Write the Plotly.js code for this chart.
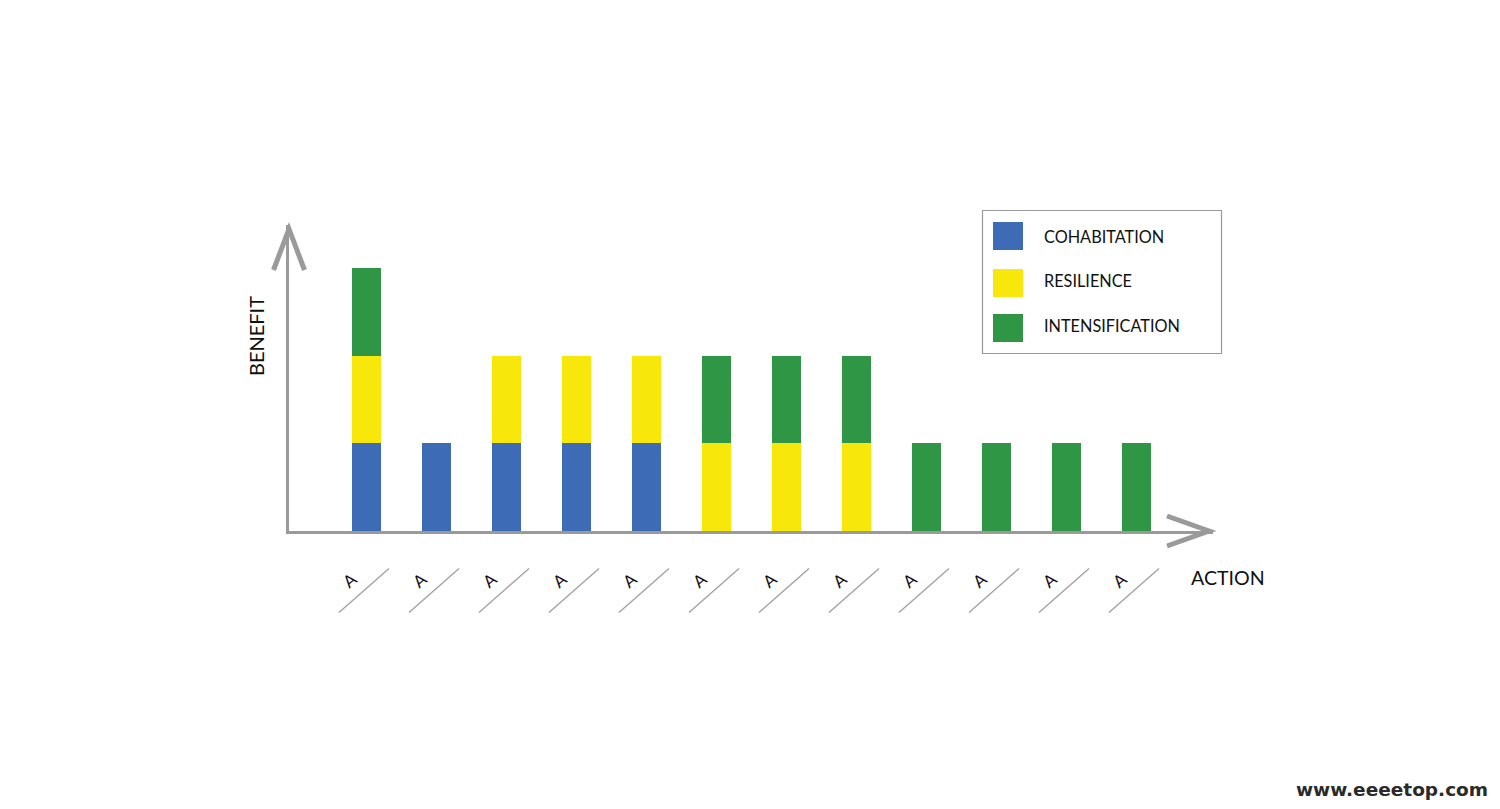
<!DOCTYPE html>
<html><head><meta charset="utf-8">
<script src="https://cdn.plot.ly/plotly-3.0.1.min.js"></script>
<style>html,body{margin:0;padding:0;background:#fff}#chart{width:1500px;height:809px}</style>
</head><body><div id="chart"></div>
<script>
// ---- data ----
const actions = ['A','A','A','A','A','A','A','A','A','A','A','A'];
const seriesNames = ['COHABITATION','RESILIENCE','INTENSIFICATION'];
const cohabitation    = [1,1,1,1,1,0,0,0,0,0,0,0];
const resilience      = [1,0,1,1,1,1,1,1,0,0,0,0];
const intensification = [1,0,0,0,0,1,1,1,1,1,1,1];
const xTitle = 'ACTION';
const yTitle = 'BENEFIT';
const watermark = 'www.eeeetop.com';

// ---- styles ----
const colors = ['#3D6BB5','#F8E70B','#2F9646'];
const axisGray = '#9a9a9a';
const FONT = 'Lato, "Noto Sans", sans-serif';

// plot area in pixels
const L = 289, R = 1213, T = 225, B = 531;
const W = 1500, H = 809;
const fx = px => (px - L) / (R - L);
const fy = py => (B - py) / (B - T);
const unitX = 70;      // px per category
const unitY = 87.6;    // px per benefit unit

const idx = actions.map((_, i) => i);
const values = [cohabitation, resilience, intensification];

const traces = values.map((v, k) => ({
  type: 'bar', x: idx, y: v, name: seriesNames[k],
  marker: {color: colors[k], line: {width: 0}},
  width: 29 / unitX, showlegend: false, hoverinfo: 'skip'
}));

const shapes = [];
// y axis arrow
shapes.push({type: 'path', xref: 'paper', yref: 'paper',
  path: `M${fx(273.5)},${fy(270)} L${fx(289)},${fy(229)} L${fx(304.5)},${fy(270)}`,
  line: {color: axisGray, width: 5}});
// x axis arrow
shapes.push({type: 'path', xref: 'paper', yref: 'paper',
  path: `M${fx(1167)},${fy(516)} L${fx(1209)},${fy(531)} L${fx(1167)},${fy(546)}`,
  line: {color: axisGray, width: 5}});
// diagonal strokes under each label
idx.forEach(i => shapes.push({type: 'line', xref: 'x', yref: 'paper',
  x0: i - 27.5 / unitX, y0: fy(612.5), x1: i + 22.5 / unitX, y1: fy(568.5),
  line: {color: '#a0a0a0', width: 1.3}}));
// legend box
shapes.push({type: 'rect', xref: 'paper', yref: 'paper',
  x0: fx(982.5), x1: fx(1221.5), y0: fy(353.5), y1: fy(210.5),
  line: {color: axisGray, width: 1.2}, fillcolor: 'rgba(0,0,0,0)'});
const swTop = [222, 269, 314];
const txtY = [236, 280, 325];
const annotations = [];
seriesNames.forEach((n, k) => {
  shapes.push({type: 'rect', xref: 'paper', yref: 'paper',
    x0: fx(993), x1: fx(1023), y0: fy(swTop[k] + 28), y1: fy(swTop[k]),
    line: {width: 0}, fillcolor: colors[k]});
  annotations.push({xref: 'paper', yref: 'paper', x: fx(1042), y: fy(txtY[k]),
    xanchor: 'left', yanchor: 'middle', showarrow: false, text: n,
    font: {family: FONT, size: 16.3, color: '#111'}});
});
annotations.push({xref: 'paper', yref: 'paper', x: fx(256), y: fy(336),
  xanchor: 'center', yanchor: 'middle', showarrow: false, text: yTitle, textangle: -90,
  font: {family: FONT, size: 20, color: '#111'}});
annotations.push({xref: 'paper', yref: 'paper', x: fx(1189), y: fy(577),
  xanchor: 'left', yanchor: 'middle', showarrow: false, text: xTitle,
  font: {family: FONT, size: 19.6, color: '#111'}});
annotations.push({xref: 'paper', yref: 'paper', x: fx(1490), y: fy(789),
  xanchor: 'right', yanchor: 'middle', showarrow: false, text: '<b>' + watermark + '</b>',
  font: {family: '"DejaVu Sans", sans-serif', size: 18.5, color: '#2a2a2a'}});

const layout = {
  width: W, height: H, autosize: false,
  margin: {l: L, r: W - R, t: T, b: H - B, pad: 0},
  paper_bgcolor: '#fff', plot_bgcolor: '#fff',
  barmode: 'stack',
  xaxis: {range: [(L - 366.5) / unitX, (R - 366.5) / unitX], showgrid: false, zeroline: false,
    showline: true, linecolor: axisGray, linewidth: 3,
    tickmode: 'array', tickvals: idx, ticktext: actions, tickangle: -40, ticks: '',
    ticklabelstandoff: 29, ticklabelshift: -14,
    tickfont: {family: FONT, size: 17, color: '#111'}, fixedrange: true},
  yaxis: {range: [0, (B - T) / unitY], showgrid: false, zeroline: false,
    showline: true, linecolor: axisGray, linewidth: 3, showticklabels: false, ticks: '', fixedrange: true},
  shapes: shapes, annotations: annotations, showlegend: false
};

Plotly.newPlot('chart', traces, layout, {displayModeBar: false, staticPlot: true});
</script>
</body></html>
